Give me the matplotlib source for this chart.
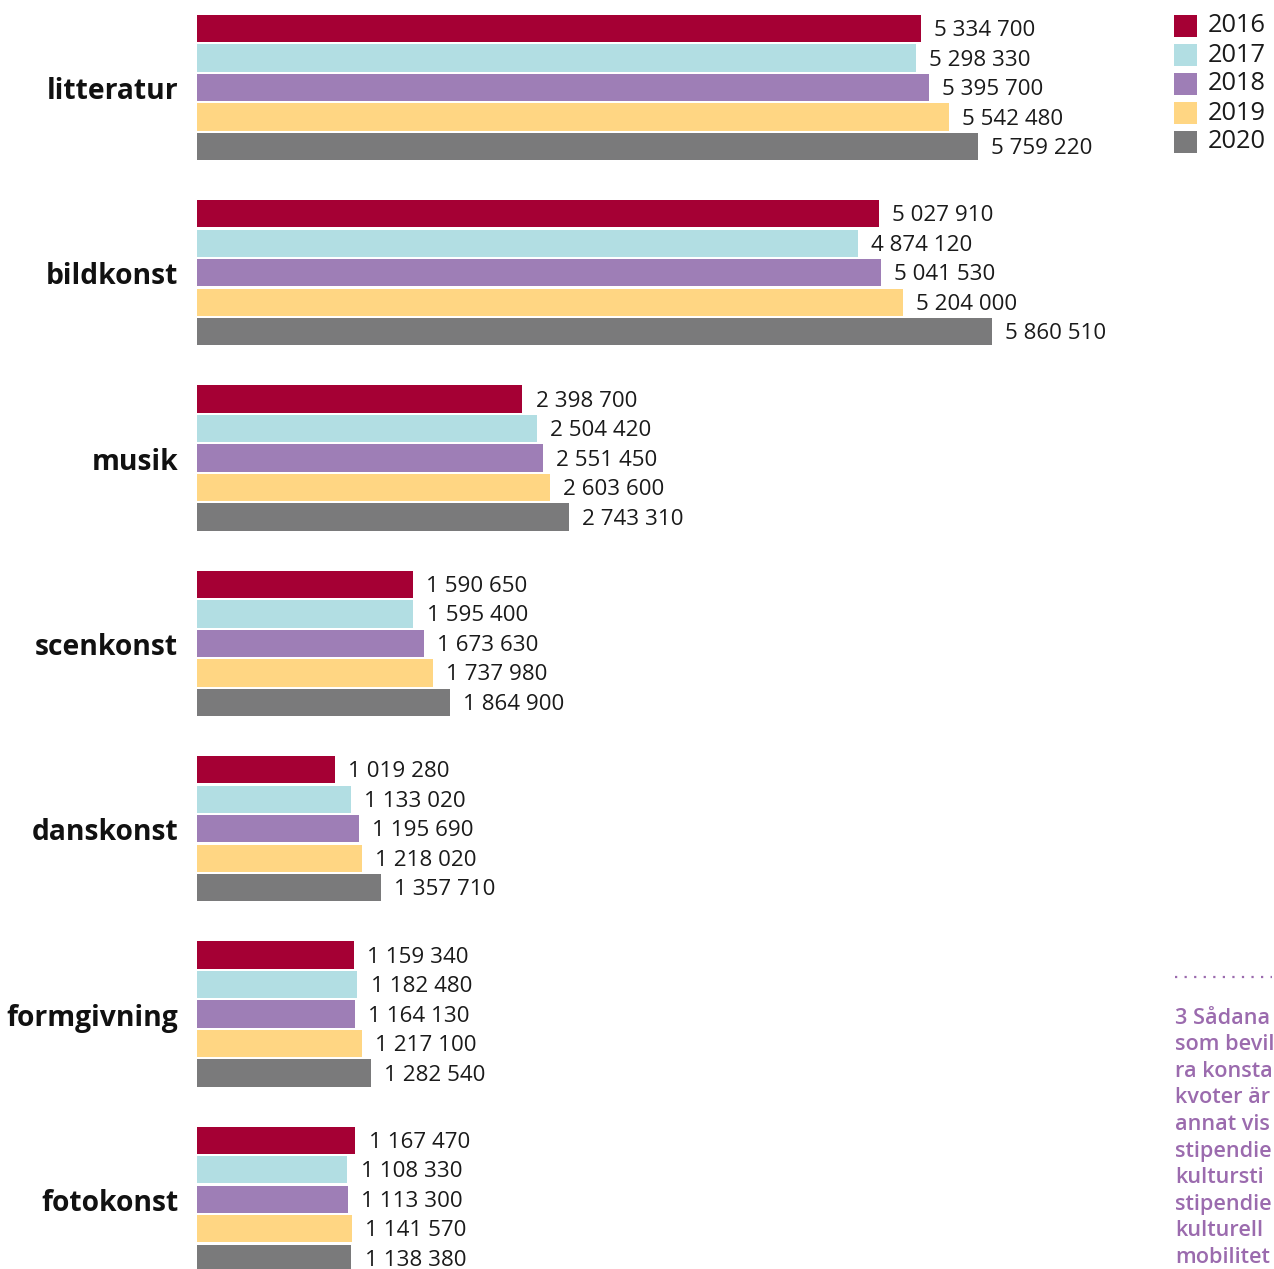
import matplotlib
matplotlib.use("Agg")
import matplotlib.pyplot as plt
from matplotlib.patches import Rectangle
from matplotlib.lines import Line2D

plt.rcParams['font.family'] = ['Open Sans', 'DejaVu Sans']

categories = ["litteratur", "bildkonst", "musik", "scenkonst", "danskonst", "formgivning", "fotokonst"]
years = ["2016", "2017", "2018", "2019", "2020"]
values = {
    "2016": [5334700, 5027910, 2398700, 1590650, 1019280, 1159340, 1167470],
    "2017": [5298330, 4874120, 2504420, 1595400, 1133020, 1182480, 1108330],
    "2018": [5395700, 5041530, 2551450, 1673630, 1195690, 1164130, 1113300],
    "2019": [5542480, 5204000, 2603600, 1737980, 1218020, 1217100, 1141570],
    "2020": [5759220, 5860510, 2743310, 1864900, 1357710, 1282540, 1138380],
}
colors = ["#A50034", "#B2DEE3", "#9E7EB6", "#FFD683", "#7A7A7B"]
footnote_lines = ["3 Sådana", "som bevil", "ra konsta", "kvoter är", "annat vis",
                  "stipendie", "kultursti", "stipendie", "kulturell", "mobilitet"]

W, H = 1274, 1269
fig = plt.figure(figsize=(W / 100, H / 100), dpi=100)
x0 = 197
ax = fig.add_axes([x0 / W, 0, 1 - x0 / W, 1])
px_per_unit = 1.3566e-4
ax.set_xlim(0, (W - x0) / px_per_unit)

group_pitch = 185.3
bar_pitch = 29.5 / group_pitch
bar_h = 27.3 / group_pitch
top = -87.5 / group_pitch
bottom = (H - 87.5) / group_pitch
ax.set_ylim(bottom, top)
ax.axis("off")

def fmt(v):
    return f"{v:,}".replace(",", " ")

for j, yr in enumerate(years):
    ys = [i + (j - 2) * bar_pitch for i in range(len(categories))]
    ax.barh(ys, values[yr], height=bar_h, color=colors[j], linewidth=0)
    for y, v in zip(ys, values[yr]):
        ax.annotate(fmt(v), (v, y), xytext=(9.5, -1.5), textcoords="offset points",
                    va="center", ha="left", fontsize=16.1, color="#1a1a1a")

for i, c in enumerate(categories):
    ax.annotate(c, (0, i), xytext=(-13.5, -3), textcoords="offset points",
                ha="right", va="center", fontsize=20.3, fontweight="bold",
                color="#111111", annotation_clip=False)

# legend
for j, yr in enumerate(years):
    yt = 15 + j * 29
    fig.patches.append(Rectangle((1174 / W, 1 - (yt + 22) / H), 23 / W, 22 / H,
                                 transform=fig.transFigure, color=colors[j], lw=0))
    fig.text(1208 / W, 1 - (yt + 11) / H, yr, fontsize=18.3, va="center",
             ha="left", color="#1a1a1a")

# footnote
fig.lines.append(Line2D([1175 / W, 1272 / W], [1 - 977 / H, 1 - 977 / H],
                        transform=fig.transFigure, color="#9B6BAE", lw=1.6,
                        linestyle=(0, (1, 3.3))))
for k, line in enumerate(footnote_lines):
    fig.text(1175 / W, 1 - (1018 + k * 26.6) / H, line, fontsize=15.6,
             fontweight="semibold", color="#9B6BAE", va="center", ha="left")

fig.savefig("out.png", dpi=100)
